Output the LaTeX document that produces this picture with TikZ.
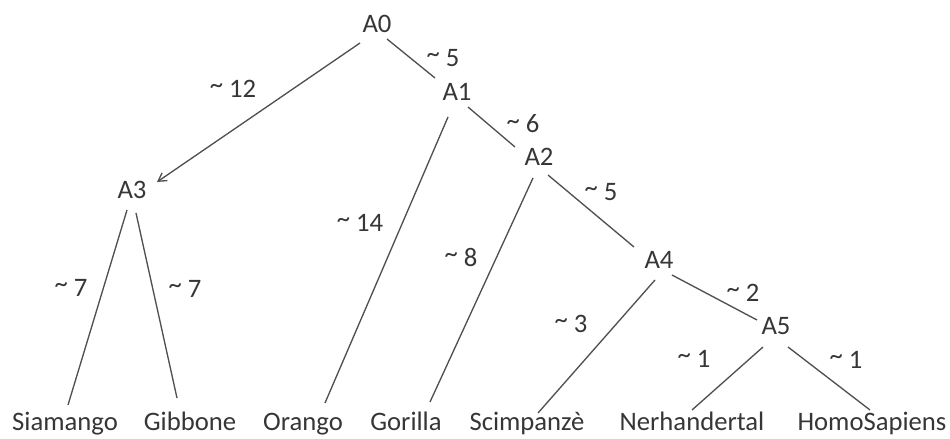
\documentclass[tikz,border=0pt]{standalone}
\usepackage{fontspec}
\setmainfont{Carlito}
\usetikzlibrary{arrows.meta,calc}
\definecolor{ink}{HTML}{363636}
\definecolor{edgec}{HTML}{505050}
\newcommand{\tl}{\raisebox{0.14em}{\textasciitilde}}
\begin{document}
\begin{tikzpicture}[x=0.75pt,y=-0.75pt,
  every node/.style={font=\fontsize{20}{24}\selectfont, text=ink},
  inode/.style={inner sep=2pt},
  leaf/.style={anchor=base, inner sep=2pt},
  wt/.style={inner sep=0pt},
  br/.style={draw=edgec, line width=1pt},
  arr/.style={br, -{Straight Barb[length=6pt,width=7pt]}}]
\useasboundingbox (0,0) rectangle (950,439);
% internal nodes
\node[inode] (A0) at (377,24) {A0};
\node[inode] (A1) at (457,92) {A1};
\node[inode] (A2) at (539,157) {A2};
\node[inode] (A3) at (132,190) {A3};
\node[inode] (A4) at (659,260) {A4};
\node[inode] (A5) at (776,326) {A5};
% leaves
\node[leaf] (Siam) at (65,430) {Siamango};
\node[leaf] (Gibb) at (190,430) {Gibbone};
\node[leaf] (Oran) at (303,430) {Orango};
\node[leaf] (Gori) at (406,430) {Gorilla};
\node[leaf] (Scim) at (527,430) {Scimpanzè};
\node[leaf] (Nerh) at (692,430) {Nerhandertal};
\node[leaf] (Homo) at (872,430) {HomoSapiens};
% weights
\node[wt] (w12) at (233,89) {\tl{} 12};
\node[wt] (w5a) at (443,58) {\tl{} 5};
\node[wt] (w6) at (523,124) {\tl{} 6};
\node[wt] (w14) at (360,223) {\tl{} 14};
\node[wt] (w8) at (461,257) {\tl{} 8};
\node[wt] (w5b) at (601,192) {\tl{} 5};
\node[wt] (w7a) at (71,288) {\tl{} 7};
\node[wt] (w7b) at (185,289) {\tl{} 7};
\node[wt] (w3) at (571,324) {\tl{} 3};
\node[wt] (w2) at (743,293) {\tl{} 2};
\node[wt] (w1a) at (694,359) {\tl{} 1};
\node[wt] (w1b) at (846,360) {\tl{} 1};
% edges
\draw[br] ($(A0)+(10,15)$) -- ($(A1)+(-22,-14)$);
\draw[arr] ($(A0)+(-17,19)$) -- ($(A3)+(25,-8)$);
\draw[br] ($(A1)+(11,15)$) -- ($(A2)+(-24,-10)$);
\draw[br] ($(A1)+(-9,25)$) -- ($(Oran.base)+(22,-27)$);
\draw[br] ($(A2)+(-6,21)$) -- ($(Gori.base)+(24,-28)$);
\draw[br] ($(A2)+(9,18)$) -- ($(A4)+(-25,-13)$);
\draw[br] ($(A4)+(-4,20)$) -- ($(Scim.base)+(11,-17)$);
\draw[br] ($(A4)+(13,15)$) -- ($(A5)+(-19,-6)$);
\draw[br] ($(A5)+(-13,21)$) -- ($(Nerh.base)+(0,-20)$);
\draw[br] ($(A5)+(12,21)$) -- ($(Homo.base)+(-2,-20)$);
\draw[br] ($(A3)+(-5,20)$) -- ($(Siam.base)+(3,-25)$);
\draw[br] ($(A3)+(4,23)$) -- ($(Gibb.base)+(-13,-32)$);
\end{tikzpicture}
\end{document}
